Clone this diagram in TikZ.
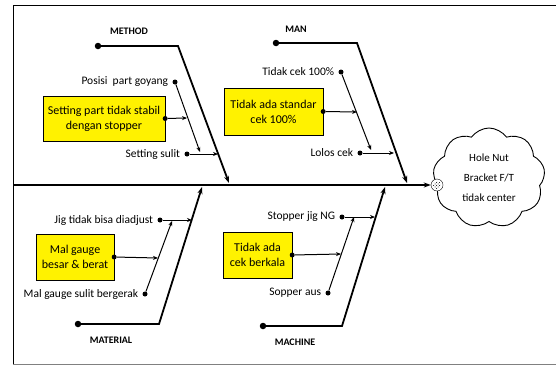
\documentclass[tikz,border=0pt]{standalone}
\usepackage{fontspec}
\setmainfont{Carlito}
\usetikzlibrary{shapes.symbols, arrows.meta, positioning, patterns}

\begin{document}
\begin{tikzpicture}[x=1pt,y=-1pt,line join=miter,
	bone/.style={line width=1.8pt,-{Stealth[length=7pt,width=5pt]}},
	sub/.style={line width=1pt,-{Stealth[length=5pt,width=4pt]}},
	dot/.style={circle,fill,inner sep=0pt,minimum size=5pt},
	bigdot/.style={circle,fill,inner sep=0pt,minimum size=6.5pt},
	cause/.style={draw,fill=yellow,align=center,inner sep=1pt,font=\fontsize{12}{15}\selectfont},
	lbl/.style={font=\fontsize{11.5}{13}\selectfont,inner sep=0pt},
	cat/.style={font=\bfseries\fontsize{10}{12}\selectfont}]

	\useasboundingbox (0,0) rectangle (556,367);
	\draw[line width=1pt] (560,5) -- (13,5) -- (13,364);
	\draw[gray,line width=1pt] (13,364) -- (560,364);

	% effect
	\node[cloud,draw,line width=0.9pt,cloud puffs=9,cloud puff arc=110,
		minimum width=112pt,minimum height=100pt,align=center,
		font=\fontsize{11}{20}\selectfont] (effect) at (489,178) {Hole Nut\\Bracket F/T\\tidak center};
	\node[circle,draw,fill=white,minimum size=12pt,inner sep=0pt] (head) at (437,185) {};
	\fill[pattern=crosshatch dots] (head.center) circle (4pt);
	\coordinate (tail) at (13,185);
	\draw[bone] (tail) -- (head.west);

	% main bones
	\node[bigdot] (method) at (98,46) {};
	\node[bigdot] (man) at (276,43) {};
	\node[bigdot] (material) at (78,324) {};
	\node[bigdot] (machine) at (263,326) {};
	\coordinate (methodK) at (178,46);
	\coordinate (manK) at (357,43);
	\coordinate (materialK) at (159,324);
	\coordinate (machineK) at (342,326);
	\coordinate (methodT) at (229,183);
	\coordinate (manT) at (407,183);
	\coordinate (materialT) at (202,187);
	\coordinate (machineT) at (385,187);
	\draw[bone] (method.center) -- (methodK) -- (methodT);
	\draw[bone] (man.center) -- (manK) -- (manT);
	\draw[bone] (material.center) -- (materialK) -- (materialT);
	\draw[bone] (machine.center) -- (machineK) -- (machineT);
	\node[cat] at (129,31) {METHOD};
	\node[cat] at (296,29) {MAN};
	\node[cat] at (111,340) {MATERIAL};
	\node[cat] at (295,342) {MACHINE};

	% method
	\node[dot] (posisi) at (175,82) {};
	\node[lbl,left=4pt of posisi] {Posisi\ \ part goyang};
	\node[dot] (sulit) at (187,154) {};
	\node[lbl,left=4pt of sulit] {Setting sulit};
	\node[cause,minimum width=122pt,minimum height=45pt] (stabil) at (104,118.5) {Setting part tidak stabil\\dengan stopper};
	\node[dot] (stabilD) at (stabil.east) {};
	\coordinate (posisiT) at (200,152);
	\coordinate (sulitT) at (218,154);
	\coordinate (stabilT) at (187,118);
	\path[sub]
	(posisi) edge (posisiT)
	(sulit) edge (sulitT)
	(stabilD) edge (stabilT);

	% man
	\node[dot] (cek) at (341,72) {};
	\node[lbl,left=4pt of cek] {Tidak cek 100\%};
	\node[dot] (lolos) at (360,153) {};
	\node[lbl,left=4pt of lolos] {Lolos cek};
	\node[cause,minimum width=99pt,minimum height=47pt] (standar) at (273.5,111.5) {Tidak ada standar\\cek 100\%};
	\node[dot] (standarD) at (standar.east) {};
	\coordinate (cekT) at (371,150);
	\coordinate (lolosT) at (394,153);
	\coordinate (standarT) at (357,112);
	\path[sub]
	(cek) edge (cekT)
	(lolos) edge (lolosT)
	(standarD) edge (standarT);

	% material
	\node[dot] (jig) at (160,220) {};
	\node[lbl,left=4pt of jig] {Jig tidak bisa diadjust};
	\node[dot] (gerak) at (145,294) {};
	\node[lbl,left=4pt of gerak] {Mal gauge sulit bergerak};
	\node[cause,minimum width=78pt,minimum height=46pt] (gauge) at (75,257) {Mal gauge\\besar \& berat};
	\node[dot] (gaugeD) at (gauge.east) {};
	\coordinate (jigT) at (192,220);
	\coordinate (gerakT) at (172,221);
	\coordinate (gaugeT) at (158,258);
	\path[sub]
	(jig) edge (jigT)
	(gerak) edge (gerakT)
	(gaugeD) edge (gaugeT);

	% machine
	\node[dot] (stopper) at (342,217) {};
	\node[lbl,left=4pt of stopper] {Stopper jig NG};
	\node[dot] (aus) at (328,293) {};
	\node[lbl,left=4pt of aus] {Sopper aus};
	\node[cause,minimum width=69pt,minimum height=46pt] (berkala) at (257.5,255) {Tidak ada\\cek berkala};
	\node[dot] (berkalaD) at (berkala.east) {};
	\coordinate (stopperT) at (375,217);
	\coordinate (ausT) at (354,217);
	\coordinate (berkalaT) at (341,254);
	\path[sub]
	(stopper) edge (stopperT)
	(aus) edge (ausT)
	(berkalaD) edge (berkalaT);
\end{tikzpicture}
\end{document}
